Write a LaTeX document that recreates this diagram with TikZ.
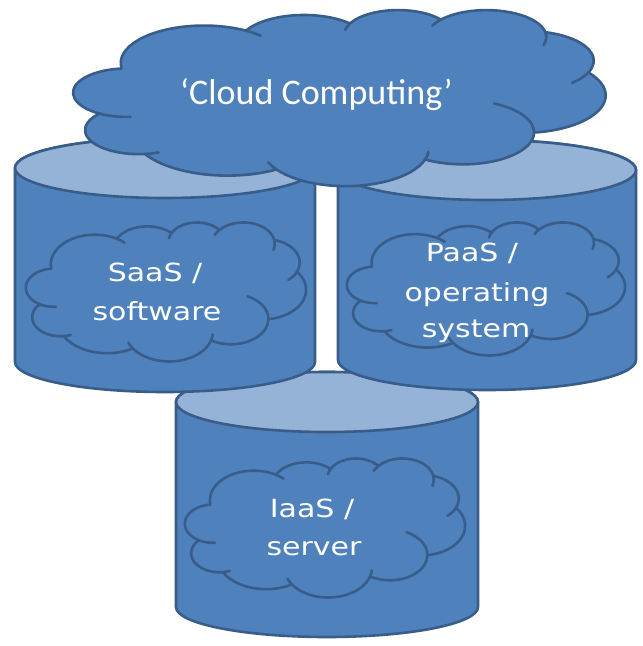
\documentclass[tikz,border=0pt]{standalone}
\usepackage{fontspec}
\setmainfont{Carlito}
\newfontfamily\techfont[FakeStretch=1.2]{DejaVu Sans}
\definecolor{bodyblue}{HTML}{4F81BD}
\definecolor{edgeblue}{HTML}{385D8A}
\definecolor{topblue}{HTML}{95B3D7}
\tikzset{
  cylbody/.style={fill=bodyblue, draw=edgeblue, line width=2.6pt, line join=round},
  cyltop/.style={fill=topblue, draw=edgeblue, line width=2.6pt},
  cloudfill/.style={fill=bodyblue, draw=edgeblue, line width=2.6pt, line join=round},
  cloudcurl/.style={draw=edgeblue, line width=2.6pt, line cap=round},
  innerlabel/.style={text=white, font=\techfont\fontsize{25}{30}\selectfont, inner sep=0pt, anchor=base},
  toplabel/.style={text=white, font=\fontsize{36}{40}\selectfont, inner sep=0pt, anchor=base}
}
\newcommand{\cylinderat}[5]{% cx, top y, bottom y, rx, ry
  \draw[cylbody] (#1-#4,#2) -- (#1-#4,#3) arc[start angle=180,end angle=360,x radius=#4,y radius=#5] -- (#1+#4,#2) arc[start angle=0,end angle=180,x radius=#4,y radius=#5] -- cycle;
  \draw[cyltop] (#1,#2) ellipse [x radius=#4, y radius=#5];
}
% cloud: left, top, width, height (page pixels, y downwards)
\newcommand{\pptcloud}[4]{%
  \begin{scope}[shift={(#1,-#2)}, xscale=#3/432, yscale=-#4/432]
  \path[cloudfill] (39.00,143.70)
    arc[start angle=172.254, end angle=300.37, x radius=67.53, y radius=91.90]
    arc[start angle=-152.02, end angle=-45.46, x radius=53.33, y radius=72.67]
    arc[start angle=-153.49, end angle=-37.33, x radius=43.65, y radius=59.45]
    arc[start angle=-139.70, end angle=-10.21, x radius=48.57, y radius=65.95]
    arc[start angle=-74.77, end angle=23.21, x radius=53.33, y radius=72.73]
    arc[start angle=-37.53, end angle=81.86, x radius=67.75, y radius=92.20]
    arc[start angle=0.46, end angle=121.98, x radius=57.85, y radius=78.67]
    arc[start angle=16.85, end angle=146.21, x radius=67.52, y radius=92.15]
    arc[start angle=58.99, end angle=150.20, x radius=77.20, y radius=105.43]
    arc[start angle=83.30, end angle=223.10, x radius=43.60, y radius=59.18]
    arc[start angle=120.37, end angle=264.11, x radius=43.45, y radius=59.45]
    -- cycle;
  \path[cloudcurl] (46.46,263.49) arc[start angle=85.54, end angle=120.37, x radius=43.45, y radius=59.45];
  \path[cloudcurl] (69.11,350.92) arc[start angle=68.25, end angle=83.30, x radius=43.60, y radius=59.18];
  \path[cloudcurl] (164.80,392.69) arc[start angle=146.21, end angle=158.48, x radius=67.52, y radius=92.15];
  \path[cloudcurl] (288.20,349.04) arc[start angle=4.74, end angle=16.85, x radius=67.52, y radius=92.15];
  \path[cloudcurl] (341.53,230.70) arc[start angle=-64.0, end angle=0.46, x radius=57.85, y radius=78.67];
  \path[cloudcurl] (418.17,154.62) arc[start angle=23.21, end angle=48, x radius=53.33, y radius=72.73];
  \path[cloudcurl] (383.17,55.79) arc[start angle=-10.21, end angle=17.18, x radius=48.57, y radius=65.95];
  \path[cloudcurl] (291.28,39.82) arc[start angle=-155.2, end angle=-139.70, x radius=48.57, y radius=65.95];
  \path[cloudcurl] (220.63,50.54) arc[start angle=-170, end angle=-153.49, x radius=43.65, y radius=59.45];
  \path[cloudcurl] (140.05,52.02) arc[start angle=-59.63, end angle=-47, x radius=67.53, y radius=91.90];
  \end{scope}
}
\begin{document}
\begin{tikzpicture}[x=1pt,y=1pt]
\useasboundingbox (0,0) rectangle (643,-646);
\fill[white] (0,0) rectangle (643,-646);
% bottom cylinder
\cylinderat{327}{-402}{-607}{151}{30}
% left and right cylinders
\cylinderat{165}{-168}{-362}{150}{30}
\cylinderat{487}{-170}{-360}{149}{30}
% inner clouds
\pptcloud{26}{222}{280}{139}
\pptcloud{347}{222}{278}{133}
\pptcloud{185}{458}{280}{139}
% top cloud
\pptcloud{73.5}{9.5}{532}{176}
% labels
\node[innerlabel] (saas1) at (155,-281) {SaaS /};
\node[innerlabel] (saas2) at (157,-320) {software};
\node[innerlabel] (paas1) at (472,-261) {PaaS /};
\node[innerlabel] (paas2) at (477,-301) {operating};
\node[innerlabel] (paas3) at (476,-337) {system};
\node[innerlabel] (iaas1) at (312,-517) {IaaS /};
\node[innerlabel] (iaas2) at (314,-555) {server};
\node[toplabel] (cc) at (316.5,-104) {‘Cloud Computing’};
\end{tikzpicture}
\end{document}
